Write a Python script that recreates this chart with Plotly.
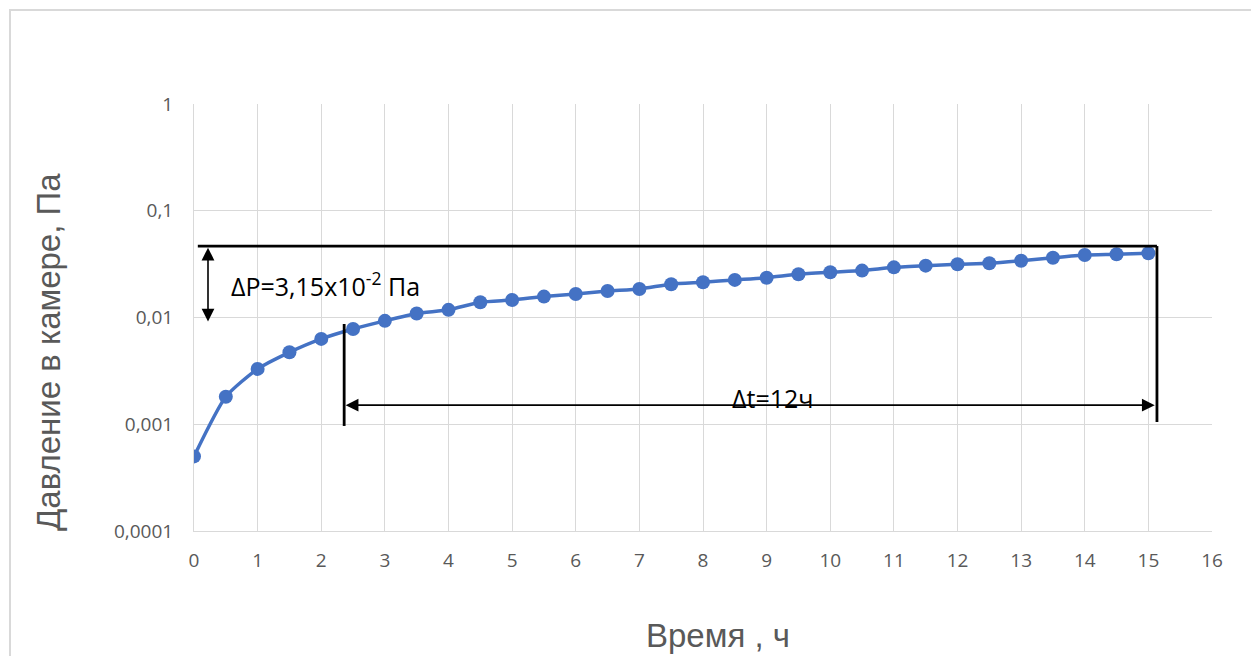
import numpy as np
import plotly.graph_objects as go

# Data
time_h = [0, 0.5, 1, 1.5, 2, 2.5, 3, 3.5, 4, 4.5, 5, 5.5, 6, 6.5, 7, 7.5, 8, 8.5, 9, 9.5,
          10, 10.5, 11, 11.5, 12, 12.5, 13, 13.5, 14, 14.5, 15]
pressure_pa = [0.0005, 0.00181, 0.0033, 0.00472, 0.0063, 0.0078, 0.0093, 0.0109, 0.0118, 0.0139,
               0.0146, 0.0157, 0.0166, 0.0177, 0.0185, 0.0205, 0.0214, 0.0225, 0.0236, 0.0254,
               0.0265, 0.0275, 0.0295, 0.0306, 0.0315, 0.0322, 0.034, 0.0363, 0.0385, 0.0391, 0.04]
y_tickvals = [0.0001, 0.001, 0.01, 0.1, 1]
y_ticktext = ["0,0001", "0,001", "0,01", "0,1", "1"]
x_tickvals = list(range(0, 17))

# Annotation geometry (data units)
top_level = 0.0467
dp_x = 0.22
dp_low = 0.00887
t_start = 2.36
t_end = 15.135
t_arrow_end = 15.10
t_arrow_level = 0.00151
left_line_bottom = 0.000964
left_line_top = 0.00869
right_line_bottom = 0.00105

fig = go.Figure()

fig.add_trace(go.Scatter(
    x=time_h, y=pressure_pa, mode="lines+markers",
    line=dict(color="#4472C4", width=3.5, shape="spline", smoothing=0.6),
    marker=dict(color="#4472C4", size=14),
    showlegend=False, hoverinfo="x+y"))

black_line = dict(color="black", width=2.8)
fig.add_trace(go.Scatter(x=[0.06, t_end], y=[top_level, top_level], mode="lines",
                         line=black_line, showlegend=False, hoverinfo="skip"))
fig.add_trace(go.Scatter(x=[t_end, t_end], y=[top_level, right_line_bottom], mode="lines",
                         line=black_line, showlegend=False, hoverinfo="skip"))
fig.add_trace(go.Scatter(x=[t_start, t_start], y=[left_line_top, left_line_bottom], mode="lines",
                         line=black_line, showlegend=False, hoverinfo="skip"))

annotations = []
annotations.append(dict(x=dp_x, y=np.log10(top_level) - 0.015, ax=dp_x, ay=np.log10(dp_low),
                        xref="x", yref="y", axref="x", ayref="y", text="",
                        showarrow=True, arrowhead=2, arrowside="end+start",
                        arrowsize=1.6, arrowwidth=1.6, arrowcolor="black"))
annotations.append(dict(x=t_arrow_end, y=np.log10(t_arrow_level), ax=t_start, ay=np.log10(t_arrow_level),
                        xref="x", yref="y", axref="x", ayref="y", text="",
                        showarrow=True, arrowhead=2, arrowside="end+start",
                        arrowsize=1.6, arrowwidth=1.6, arrowcolor="black"))
annotations.append(dict(x=0.55, y=np.log10(0.0205), xref="x", yref="y", xanchor="left", yanchor="middle",
                        text="ΔP=3,15x10<sup>-2</sup> Па", showarrow=False,
                        font=dict(family="Open Sans", size=25, color="black")))
annotations.append(dict(x=9.1, y=np.log10(t_arrow_level), xref="x", yref="y", xanchor="center", yanchor="bottom",
                        yshift=-12, text="Δt=12ч", showarrow=False,
                        font=dict(family="Open Sans", size=25, color="black")))
annotations.append(dict(x=(718 - 194) / 1018, y=-(635 - 531) / 427, xref="paper", yref="paper",
                        text="Время , ч", showarrow=False, xanchor="center", yanchor="middle",
                        font=dict(family="Liberation Sans", size=33, color="#595959")))
annotations.append(dict(x=-(194 - 48) / 1018, y=(531 - 352) / 427, xref="paper", yref="paper",
                        text="Давление в камере, Па", showarrow=False, textangle=-90,
                        xanchor="center", yanchor="middle",
                        font=dict(family="Liberation Sans", size=33, color="#595959")))

fig.update_layout(
    width=1259, height=656,
    margin=dict(l=186, r=55, t=96, b=133),
    paper_bgcolor="white", plot_bgcolor="white",
    annotations=annotations,
    shapes=[dict(type="rect", xref="paper", yref="paper",
                 x0=-(194 - 10) / 1018, x1=(1252 - 194) / 1018, y0=-(660 - 531) / 427, y1=(531 - 10) / 427,
                 line=dict(color="#d9d9d9", width=2), fillcolor="rgba(0,0,0,0)", layer="below")],
    xaxis=dict(range=[0, 16], tickvals=x_tickvals, showgrid=True, gridcolor="#d9d9d9", gridwidth=1,
               showline=True, linecolor="#d9d9d9", linewidth=1, zeroline=False,
               ticks="outside", ticklen=12, tickcolor="rgba(0,0,0,0)",
               tickfont=dict(family="Open Sans", size=19, color="#595959")),
    yaxis=dict(type="log", range=[-4, 0], tickvals=y_tickvals, ticktext=y_ticktext,
               showgrid=True, gridcolor="#d9d9d9", gridwidth=1,
               showline=True, linecolor="#d9d9d9", linewidth=1, zeroline=False,
               ticks="outside", ticklen=16, tickcolor="rgba(0,0,0,0)",
               tickfont=dict(family="Open Sans", size=19, color="#595959")),
)

fig.write_html("out.html")
